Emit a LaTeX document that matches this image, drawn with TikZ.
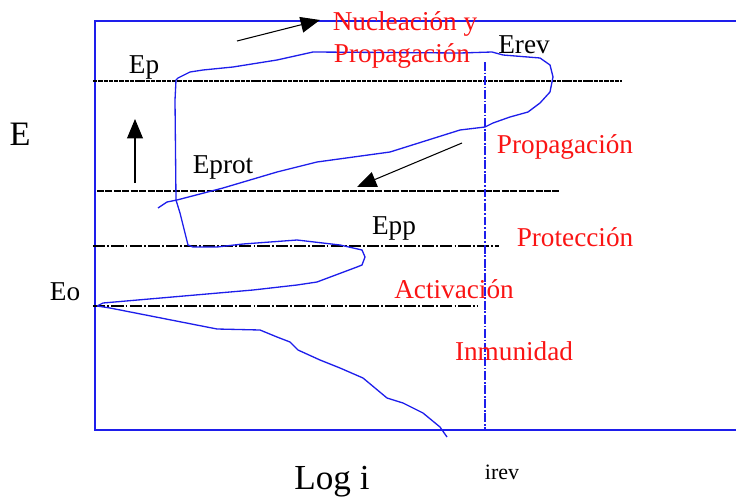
\documentclass[tikz,border=0pt]{standalone}
\usepackage{fontspec}
\setmainfont{Liberation Serif}
\usepackage{tikz}
\usetikzlibrary{arrows.meta, positioning, calc}
\definecolor{plotblue}{RGB}{30,30,235}
\definecolor{zonered}{RGB}{250,20,20}
\tikzset{
  frame/.style={draw=plotblue, line width=0.8pt},
  level/.style={draw=black, line width=1.3pt, dash pattern=on 7pt off 1.2pt on 1pt off 1.2pt},
  curve/.style={draw=plotblue, line width=0.75pt},
  zone/.style={text=zonered, font=\fontsize{15.5}{17}\selectfont, inner sep=0pt},
  lbl/.style={text=black, font=\fontsize{15.5}{17}\selectfont, inner sep=0pt},
  hint/.style={draw=black, line width=0.6pt, -{Triangle[length=11pt,width=9pt]}}
}
\begin{document}
\begin{tikzpicture}[x=0.02cm, y=-0.02cm]
\useasboundingbox (0,0) rectangle (736,497);

% Frame
\draw[frame] (736,21) -- (95,21) -- (95,430) -- (736,430);

% Potential levels
\draw[level, line width=1.5pt, dash pattern=on 2.5pt off 0.5pt] (93,81) -- (622,81);
\draw[level, line width=1pt, dash pattern=on 4pt off 0.8pt] (97,191) -- (560,191);
\draw[level] (93,246) -- (499,246);
\draw[level] (93,306) -- (478,306);

% irev
\draw[plotblue, line width=1.4pt, dash pattern=on 5pt off 1pt on 1pt off 1pt] (485,62) -- (485,430);

% Polarisation curve
\draw[curve] (97,306) -- (103,303) -- (253,290) -- (297,285) -- (317,282)
  -- (357,267) -- (362,265) -- (365,257) -- (362,250) -- (340,245)
  -- (297,240) -- (243,244) -- (217,247) -- (193,247) -- (188,245)
  -- (185,233) -- (180,213) -- (176,200) -- (175,100) -- (176,80)
  -- (178,78) -- (190,72) -- (203,70) -- (233,67) -- (277,60)
  -- (313,52) -- (460,53) -- (492,52) -- (503,55) -- (540,58)
  -- (550,65) -- (553,77) -- (550,92) -- (540,103) -- (528,112)
  -- (510,117) -- (493,123) -- (485,127) -- (460,130) -- (390,152)
  -- (317,162) -- (277,172) -- (223,188) -- (177,200) -- (167,202)
  -- (158,208);
\draw[curve] (97,306) -- (110,308) -- (217,329) -- (260,330) -- (277,337)
  -- (290,342) -- (298,350) -- (320,360) -- (340,368) -- (363,378)
  -- (387,398) -- (403,403) -- (423,413) -- (440,427) -- (447,437);

% Arrows
\coordinate (nucA) at (237,41);
\coordinate (nucB) at (320,20);
\coordinate (upA) at (135,183);
\coordinate (upB) at (135,119);
\coordinate (backA) at (462,143);
\coordinate (backB) at (357,187);
\draw[hint] (nucA) -- (nucB);
\draw[hint] (upA) -- (upB);
\draw[hint] (backA) -- (backB);

% Axis labels
\node[lbl, font=\fontsize{19.5}{21}\selectfont] (eaxis) at (20,134) {E};
\node[lbl, font=\fontsize{20}{22}\selectfont] (logi) at (332,482) {Log i};
\node[lbl, font=\fontsize{12.5}{14}\selectfont] (irev) at (502,472) {irev};

% Potentials
\node[lbl] (ep) at (144,67) {Ep};
\node[lbl] (erev) at (524,45) {Erev};
\node[lbl] (eprot) at (223,167) {Eprot};
\node[lbl] (epp) at (394,228) {Epp};
\node[lbl] (eo) at (65,292) {Eo};

% Zones
\node[zone] (nuc) at (405,24) {Nucleación y};
\node[zone] (prop) at (402,56) {Propagación};
\node[zone] (propb) at (565,147) {Propagación};
\node[zone] (prot) at (575,237) {Protección};
\node[zone] (act) at (454,289) {Activación};
\node[zone] (inm) at (514,351) {Inmunidad};
\end{tikzpicture}
\end{document}
